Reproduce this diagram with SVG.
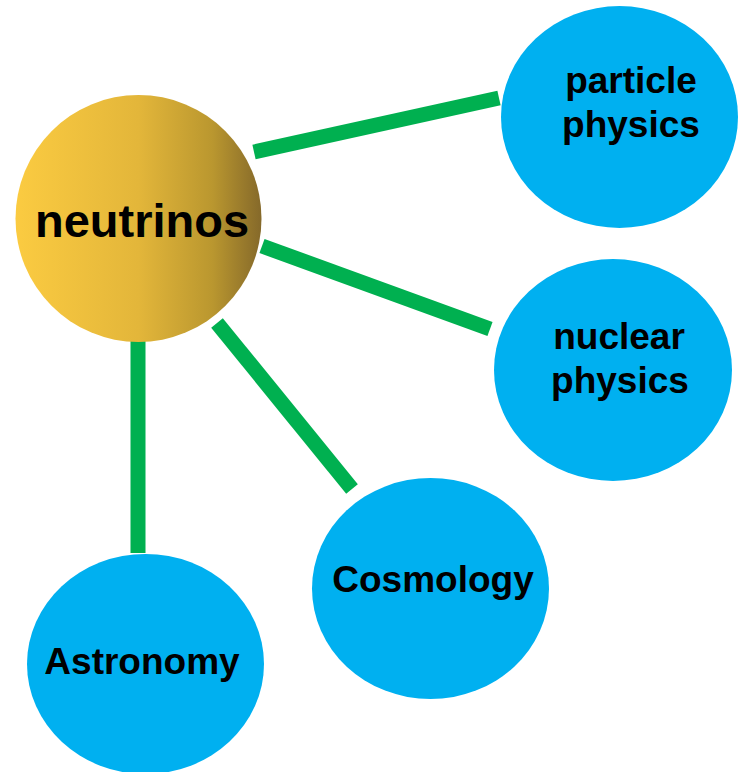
<svg xmlns="http://www.w3.org/2000/svg" width="740" height="772" viewBox="0 0 740 772">
  <defs>
    <linearGradient id="gold" x1="0" y1="0" x2="1" y2="0">
      <stop offset="0" stop-color="#FBCB41"/>
      <stop offset="0.5" stop-color="#E3B63A"/>
      <stop offset="0.8" stop-color="#BA972F"/>
      <stop offset="1" stop-color="#85692A"/>
    </linearGradient>
  </defs>
  <style>
    .conn { stroke: #00B050; stroke-width: 15; fill: none; }
    .blue { fill: #00B0F0; }
    .lbl { font-family: "Liberation Sans", Arial, Helvetica, sans-serif; font-weight: bold; font-size: 37px; fill: #000; text-anchor: middle; }
  </style>
  <rect width="740" height="772" fill="#FFFFFF"/>
  <g id="connectors">
    <line class="conn" x1="254" y1="152" x2="499" y2="98"/>
    <line class="conn" x1="262" y1="246" x2="490" y2="329"/>
    <line class="conn" x1="217" y1="323" x2="352" y2="489"/>
    <line class="conn" x1="138" y1="337" x2="138" y2="553"/>
  </g>
  <g id="neutrinos">
    <ellipse cx="138.5" cy="218.5" rx="123" ry="123.5" fill="url(#gold)"/>
    <text class="lbl" x="142" y="237" style="font-size:47px">neutrinos</text>
  </g>
  <g id="particle-physics">
    <ellipse class="blue" cx="619.5" cy="117" rx="118.5" ry="111"/>
    <text class="lbl" x="631" y="93">particle</text>
    <text class="lbl" x="631" y="137">physics</text>
  </g>
  <g id="nuclear-physics">
    <ellipse class="blue" cx="613" cy="370" rx="119" ry="111"/>
    <text class="lbl" x="619" y="349">nuclear</text>
    <text class="lbl" x="620" y="393">physics</text>
  </g>
  <g id="cosmology">
    <ellipse class="blue" cx="430.5" cy="588.5" rx="118.5" ry="110.5"/>
    <text class="lbl" x="433" y="592">Cosmology</text>
  </g>
  <g id="astronomy">
    <ellipse class="blue" cx="145.5" cy="664" rx="118.5" ry="110"/>
    <text class="lbl" x="142" y="674">Astronomy</text>
  </g>
</svg>
